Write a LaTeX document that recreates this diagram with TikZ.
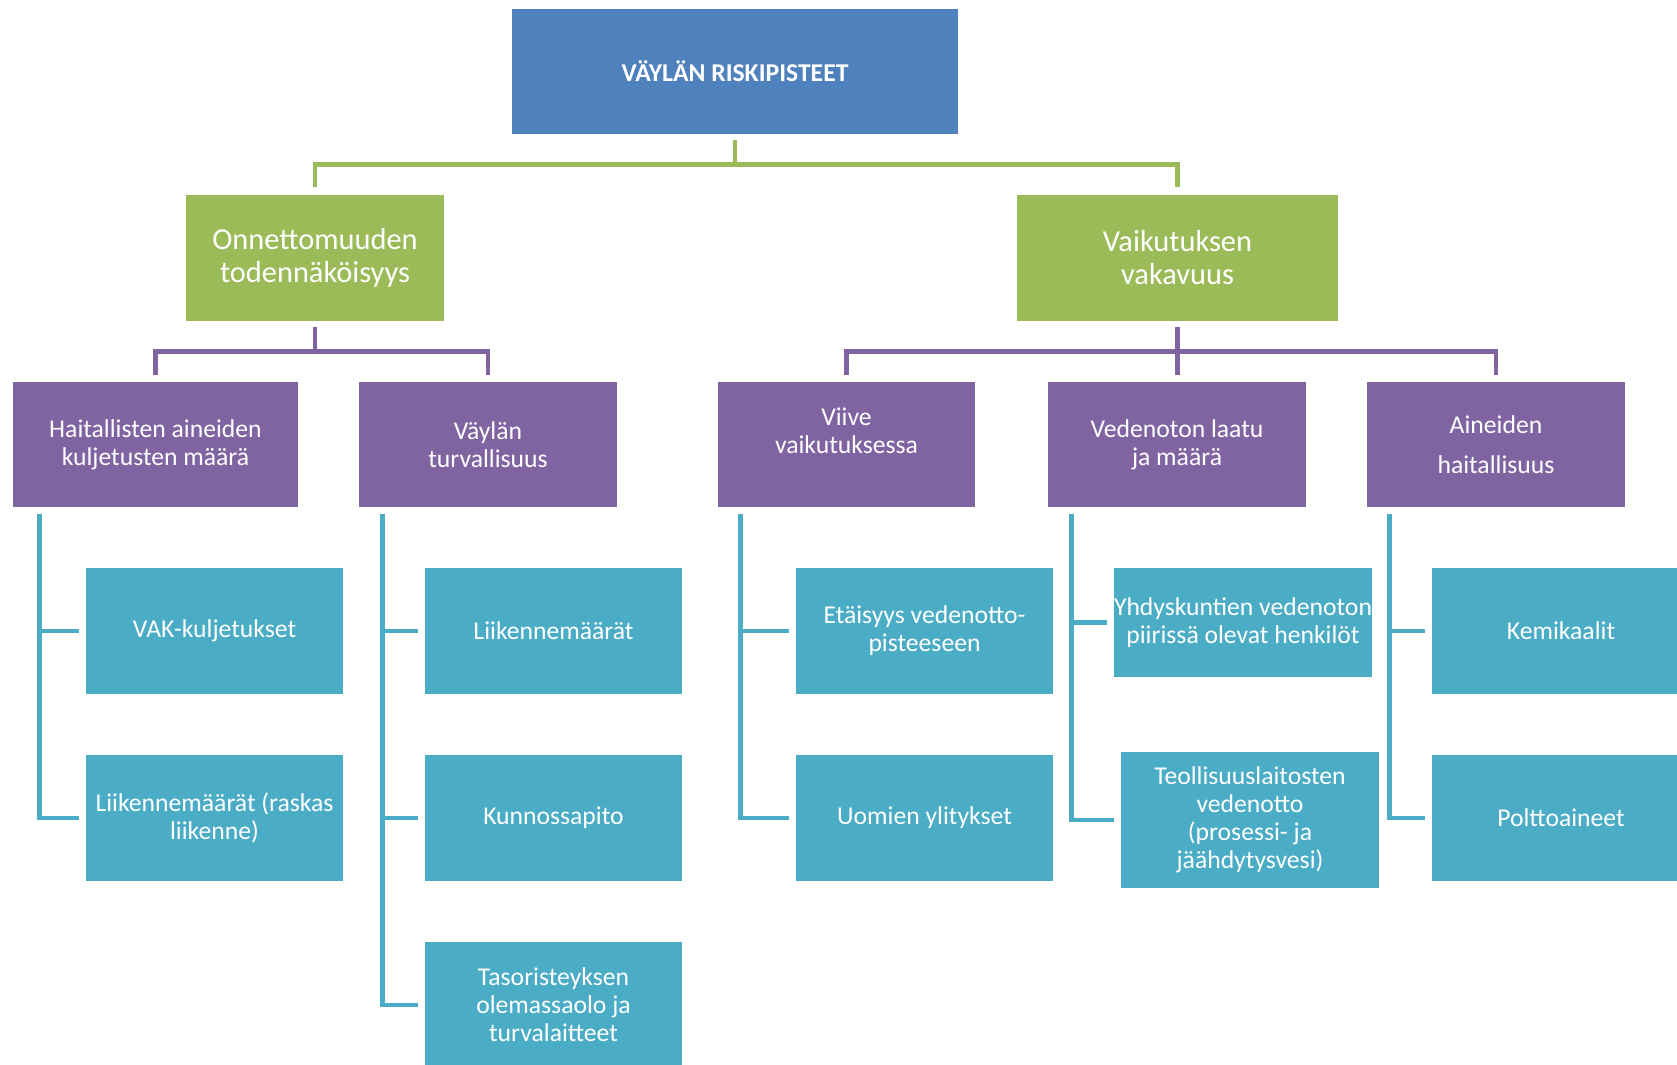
\documentclass[tikz,border=0pt]{standalone}
\usepackage{fontspec}
\setmainfont{Carlito}
\definecolor{boxblue}{HTML}{4F81BD}
\definecolor{boxgreen}{HTML}{9BBB59}
\definecolor{boxpurple}{HTML}{8064A2}
\definecolor{boxaqua}{HTML}{4BACC6}

\begin{document}
\begin{tikzpicture}[
  chartbox/.style={rectangle, inner sep=0pt, align=center, text=white, minimum width=2.57cm, minimum height=1.26cm},
  topbox/.style={chartbox, fill=boxblue, font=\fontsize{7.3}{8}\selectfont\bfseries},
  lvlone/.style={chartbox, fill=boxgreen, font=\fontsize{8.65}{9.4}\selectfont},
  lvltwo/.style={chartbox, fill=boxpurple, minimum height=1.25cm, font=\fontsize{7.3}{8}\selectfont},
  leaf/.style={chartbox, fill=boxaqua, font=\fontsize{7.3}{8}\selectfont},
  greenline/.style={draw=boxgreen, line width=1.3pt},
  purpleline/.style={draw=boxpurple, line width=1.3pt},
  aqualine/.style={draw=boxaqua, line width=1.3pt}
]
\useasboundingbox (0,0) rectangle (16.77,-10.64);
%top
\node[topbox, minimum width=4.46cm, minimum height=1.25cm] (riski) at (7.35,-0.71) {VÄYLÄN RISKIPISTEET};
%level 1
\node[lvlone, minimum width=2.58cm] (onn) at (3.15,-2.58) {Onnettomuuden\\todennäköisyys};
\node[lvlone, minimum width=3.21cm] (vaik) at (11.775,-2.58) {Vaikutuksen\\vakavuus};
\draw[greenline] ([yshift=-0.06cm]riski.south) -- ++(0,-0.24) -| ([yshift=0.07cm]onn.north);
\draw[greenline] ([yshift=-0.06cm]riski.south) -- ++(0,-0.24) -| ([yshift=0.07cm]vaik.north);
%level 2
\node[lvltwo, minimum width=2.85cm] (hait) at (1.555,-4.445) {Haitallisten aineiden\\kuljetusten määrä};
\node[lvltwo, minimum width=2.58cm] (turva) at (4.88,-4.445) {Väylän\\turvallisuus};
\node[lvltwo] (viive) at (8.465,-4.445) {Viive\\vaikutuksessa\\\mbox{}};
\node[lvltwo, minimum width=2.58cm] (laatu) at (11.77,-4.445) {Vedenoton laatu\\ja määrä};
\node[lvltwo, minimum width=2.58cm] (aine) at (14.96,-4.445) {Aineiden\\[0.12cm]haitallisuus};
\draw[purpleline] ([yshift=-0.05cm]onn.south) -- ++(0,-0.25) -| ([yshift=0.06cm]hait.north);
\draw[purpleline] ([yshift=-0.05cm]onn.south) -- ++(0,-0.25) -| ([yshift=0.06cm]turva.north);
\draw[purpleline] ([yshift=-0.05cm]vaik.south) -- ++(0,-0.25) -| ([yshift=0.06cm]viive.north);
\draw[purpleline] ([yshift=-0.05cm]vaik.south) -- ([yshift=0.06cm]vaik.south |- laatu.north);
\draw[purpleline] ([yshift=-0.05cm]vaik.south) -- ++(0,-0.25) -| ([yshift=0.06cm]aine.north);
%leaves
\node[leaf] (vak) at (2.145,-6.31) {VAK-kuljetukset};
\node[leaf] (raskas) at (2.145,-8.18) {Liikennemäärät (raskas\\liikenne)};
\node[leaf] (liik) at (5.535,-6.31) {Liikennemäärät};
\node[leaf] (kunto) at (5.535,-8.18) {Kunnossapito};
\node[leaf] (taso) at (5.535,-10.05) {Tasoristeyksen\\olemassaolo ja\\turvalaitteet};
\node[leaf] (etai) at (9.245,-6.31) {Etäisyys vedenotto-\\pisteeseen};
\node[leaf] (uomat) at (9.245,-8.18) {Uomien ylitykset};
\node[leaf, minimum width=2.58cm, minimum height=1.09cm] (yhdys) at (12.43,-6.225) {Yhdyskuntien vedenoton\\piirissä olevat henkilöt};
\node[leaf, minimum width=2.58cm, minimum height=1.36cm] (teoll) at (12.50,-8.20) {Teollisuuslaitosten\\vedenotto\\(prosessi- ja\\jäähdytysvesi)};
\node[leaf, minimum width=2.58cm] (kemi) at (15.61,-6.31) {Kemikaalit};
\node[leaf, minimum width=2.58cm] (poltto) at (15.61,-8.18) {Polttoaineet};
\draw[aqualine] ([xshift=0.27cm,yshift=-0.06cm]hait.south west) |- ([xshift=-0.06cm]vak.west);
\draw[aqualine] ([xshift=0.27cm,yshift=-0.06cm]hait.south west) |- ([xshift=-0.06cm]raskas.west);
\draw[aqualine] ([xshift=0.24cm,yshift=-0.06cm]turva.south west) |- ([xshift=-0.06cm]liik.west);
\draw[aqualine] ([xshift=0.24cm,yshift=-0.06cm]turva.south west) |- ([xshift=-0.06cm]kunto.west);
\draw[aqualine] ([xshift=0.24cm,yshift=-0.06cm]turva.south west) |- ([xshift=-0.06cm]taso.west);
\draw[aqualine] ([xshift=0.23cm,yshift=-0.06cm]viive.south west) |- ([xshift=-0.06cm]etai.west);
\draw[aqualine] ([xshift=0.23cm,yshift=-0.06cm]viive.south west) |- ([xshift=-0.06cm]uomat.west);
\draw[aqualine] ([xshift=0.24cm,yshift=-0.06cm]laatu.south west) |- ([xshift=-0.06cm]yhdys.west);
\draw[aqualine] ([xshift=0.24cm,yshift=-0.06cm]laatu.south west) |- ([xshift=-0.06cm]teoll.west);
\draw[aqualine] ([xshift=0.23cm,yshift=-0.06cm]aine.south west) |- ([xshift=-0.06cm]kemi.west);
\draw[aqualine] ([xshift=0.23cm,yshift=-0.06cm]aine.south west) |- ([xshift=-0.06cm]poltto.west);
\end{tikzpicture}
\end{document}
